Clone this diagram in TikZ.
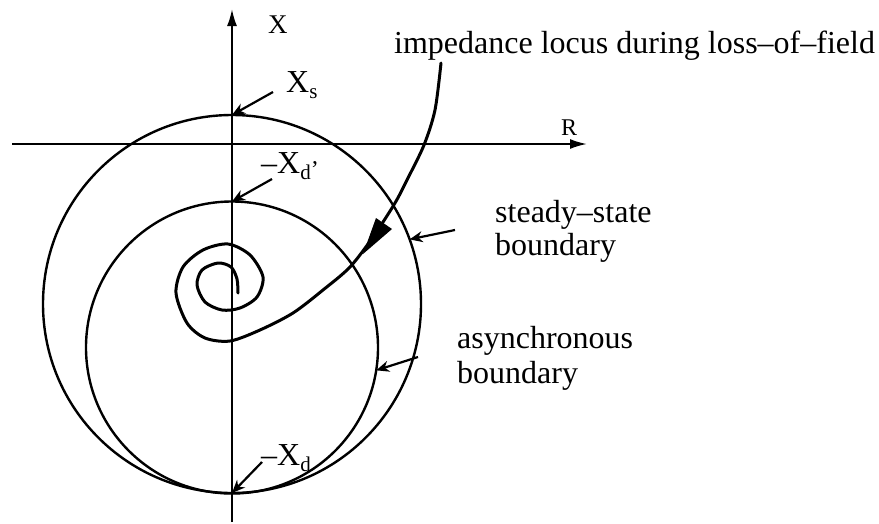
\documentclass[tikz,border=0pt]{standalone}
\usepackage{fontspec}
\setmainfont{Liberation Serif}
\usetikzlibrary{arrows.meta}
\newcommand{\sbs}[1]{\raisebox{-6pt}{\fontsize{21}{21}\selectfont #1}}
\newcommand{\prm}{\raisebox{-4pt}{\fontsize{24}{24}\selectfont ’}}
\begin{document}
\begin{tikzpicture}[x=1pt,y=-1pt,
  axisline/.style={line width=2pt,-{Latex[length=17pt,width=10pt]}},
  ring/.style={circle,draw,line width=2.4pt,inner sep=0pt,outer sep=0pt},
  pointer/.style={line width=2.2pt,-{Stealth[length=13pt,width=11pt]}},
  lbl/.style={inner sep=0pt,anchor=base west,font=\fontsize{32}{34}\selectfont},
  locus/.style={line width=3pt,line join=round,line cap=round}]
\useasboundingbox (0,0) rectangle (879,523);
% boundaries
\node[ring,minimum size=378pt] (big) at (232,304) {};
\node[ring,minimum size=292pt] (async) at (232,347.5) {};
% axes
\coordinate (vbot) at (232,522);
\coordinate (vtop) at (232,9);
\coordinate (hleft) at (12,144);
\coordinate (hright) at (587,144);
\draw[axisline] (vbot) -- (vtop);
\draw[axisline] (hleft) -- (hright);
% labels
\node[lbl,font=\fontsize{27}{30}\selectfont] (xlab) at (268,33) {X};
\node[lbl,font=\fontsize{24}{26}\selectfont] (rlab) at (561,135) {R};
\node[lbl] (xs) at (286,92) {X\sbs{s}};
\node[lbl] (xdp) at (261,173) {--X\sbs{d}\prm};
\node[lbl] (xd) at (261,465) {--X\sbs{d}};
\node[lbl] (title) at (394,53) {impedance locus during loss--of--field};
\node[lbl] (ss1) at (495,222) {steady--state};
\node[lbl] (ss2) at (495,255) {boundary};
\node[lbl] (as1) at (457,348) {asynchronous};
\node[lbl] (as2) at (457,383) {boundary};
% pointers
\coordinate (xsT) at (273,92);
\coordinate (xdpT) at (272,179);
\coordinate (xdT) at (262,462);
\coordinate (ssT) at (455,230);
\coordinate (asT) at (418,357);
\draw[pointer] (xsT) -- (big.north);
\draw[pointer] (xdpT) -- (async.north);
\draw[pointer] (xdT) -- (big.south);
\draw[pointer] (ssT) -- (big.20);
\draw[pointer] (asT) -- (async.-9);
% impedance locus
\draw[locus] plot[smooth] coordinates {(441,63) (435,110) (424,145) (408,178) (395,203) (373,237) (350,267) (323,290) (293,313) (260,330) (230,341) (205,338) (187,323) (176,293) (183,267) (203,250) (228,244) (250,255) (263,277) (257,297) (240,308) (222,310) (205,302) (197,285) (202,270) (218,263) (231,267) (237,279) (238,293)};
\fill (376,218) -- (392,229) -- (363,254) -- cycle;
\end{tikzpicture}
\end{document}
